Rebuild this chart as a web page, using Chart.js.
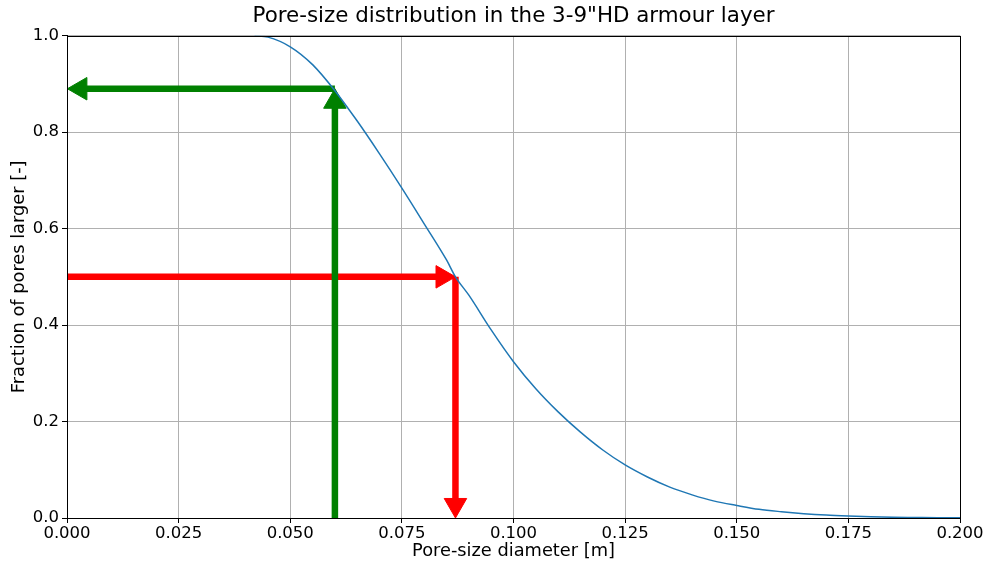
<!DOCTYPE html>
<html>
<head>
<meta charset="utf-8">
<script src="https://cdn.jsdelivr.net/npm/chart.js@4"></script>
<style>
  body { margin: 0; background: #fff; }
  #wrap { width: 990px; height: 563px; }
</style>
</head>
<body>
<div id="wrap"><canvas id="poreChart" width="990" height="563"></canvas></div>
<script>
// Pore-size curve
const curveX = [0.042, 0.045, 0.050, 0.055, 0.060, 0.065, 0.070, 0.075, 0.080, 0.085, 0.087, 0.090,
  0.095, 0.100, 0.105, 0.110, 0.115, 0.120, 0.125, 0.130, 0.135, 0.140, 0.145, 0.150,
  0.155, 0.160, 0.165, 0.170, 0.175, 0.180, 0.185, 0.190, 0.195, 0.200];
const curveY = [1.000, 0.997, 0.977, 0.940, 0.886, 0.823, 0.755, 0.684, 0.610, 0.535, 0.500, 0.462,
  0.390, 0.324, 0.268, 0.220, 0.178, 0.141, 0.110, 0.085, 0.064, 0.048, 0.035, 0.026,
  0.018, 0.013, 0.009, 0.006, 0.004, 0.0025, 0.0015, 0.001, 0.0005, 0.0003];

// Arrows: shaft start/end and head position
const greenHorizX = [0.060, 0.004];
const greenHorizY = [0.89, 0.89];
const greenVertX = [0.060, 0.060];
const greenVertY = [0.0, 0.86];
const redHorizX = [0.0, 0.083];
const redHorizY = [0.5, 0.5];
const redVertX = [0.087, 0.087];
const redVertY = [0.5, 0.03];

const headsGreen = [{ x: 0.003, y: 0.89, rot: 270 }, { x: 0.060, y: 0.863, rot: 0 }];
const headsRed = [{ x: 0.0841, y: 0.5, rot: 90 }, { x: 0.087, y: 0.027, rot: 180 }];

const xTicks = { min: 0, max: 0.2, step: 0.025 };
const yTicks = { min: 0, max: 1, step: 0.2 };

const toPts = (xs, ys) => xs.map((x, i) => ({ x: x, y: ys[i] }));

const FONT = 'DejaVu Sans';

// frame round the plot area (matplotlib style spines)
const framePlugin = {
  id: 'frame',
  afterDatasetsDraw(chart) {
    const a = chart.chartArea;
    const c = chart.ctx;
    c.save();
    c.strokeStyle = '#000';
    c.lineWidth = 1;
    c.strokeRect(Math.round(a.left) + 0.5, Math.round(a.top) + 0.5,
      Math.round(a.right - a.left), Math.round(a.bottom - a.top));
    c.restore();
  }
};

function arrowShaft(xs, ys, color) {
  return {
    data: toPts(xs, ys),
    borderColor: color,
    borderWidth: 6.5,
    pointRadius: 0,
    clip: false,
    order: 2
  };
}

function arrowHeads(heads, color) {
  return {
    data: heads.map(h => ({ x: h.x, y: h.y })),
    showLine: false,
    pointStyle: 'triangle',
    pointRotation: heads.map(h => h.rot),
    pointRadius: 13,
    pointBackgroundColor: color,
    pointBorderColor: color,
    pointBorderWidth: 1,
    clip: false,
    order: 2
  };
}

new Chart(document.getElementById('poreChart'), {
  type: 'line',
  data: {
    datasets: [
      arrowShaft(greenHorizX, greenHorizY, '#008000'),
      arrowShaft(greenVertX, greenVertY, '#008000'),
      arrowHeads(headsGreen, '#008000'),
      arrowShaft(redHorizX, redHorizY, '#ff0000'),
      arrowShaft(redVertX, redVertY, '#ff0000'),
      arrowHeads(headsRed, '#ff0000'),
      {
        data: toPts(curveX, curveY),
        borderColor: '#1f77b4',
        borderWidth: 1.5,
        pointRadius: 0,
        cubicInterpolationMode: 'monotone',
        order: 1
      }
    ]
  },
  options: {
    responsive: false,
    animation: false,
    layout: { padding: { left: 0, right: 30, top: 0, bottom: 0 } },
    plugins: {
      legend: { display: false },
      tooltip: { enabled: false },
      title: {
        display: true,
        fullSize: false,
        text: 'Pore-size distribution in the 3-9"HD armour layer',
        color: '#000',
        font: { family: FONT, size: 21.4, weight: 'normal' },
        padding: { top: 4, bottom: 6 }
      }
    },
    scales: {
      x: {
        type: 'linear',
        min: xTicks.min,
        max: xTicks.max,
        afterFit: s => { s.height = 45; },
        grid: { color: '#b0b0b0', lineWidth: 1, tickColor: '#000', tickLength: 5 },
        border: { color: '#000' },
        ticks: {
          stepSize: xTicks.step,
          color: '#000',
          padding: 1,
          maxRotation: 0,
          font: { family: FONT, size: 16.5 },
          callback: v => v.toFixed(3)
        },
        title: {
          display: true,
          text: 'Pore-size diameter [m]',
          color: '#000',
          font: { family: FONT, size: 17.8 },
          padding: { top: 0, bottom: 1 }
        }
      },
      y: {
        type: 'linear',
        min: yTicks.min,
        max: yTicks.max,
        afterFit: s => { s.width = 67; },
        grid: { color: '#b0b0b0', lineWidth: 1, tickColor: '#000', tickLength: 5 },
        border: { color: '#000' },
        ticks: {
          stepSize: yTicks.step,
          color: '#000',
          padding: 3,
          font: { family: FONT, size: 16.5 },
          callback: v => v.toFixed(1)
        },
        title: {
          display: true,
          text: 'Fraction of pores larger [-]',
          color: '#000',
          font: { family: FONT, size: 17.8 },
          padding: { top: 9, bottom: 0 }
        }
      }
    }
  },
  plugins: [framePlugin]
});
</script>
</body>
</html>
